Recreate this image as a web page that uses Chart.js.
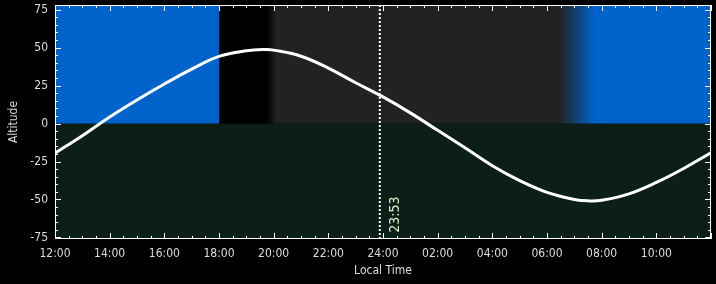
<!DOCTYPE html>
<html>
<head>
<meta charset="utf-8">
<script src="https://cdn.jsdelivr.net/npm/chart.js@4/dist/chart.umd.min.js"></script>
<style>
  html, body { margin: 0; padding: 0; background: #000; }
  #wrap { width: 716px; height: 284px; }
</style>
</head>
<body>
<div id="wrap"><canvas id="altChart"></canvas></div>
<script>
// hours counted from 12:00 local time
const hours    = [0, 1, 2, 3, 4, 5, 6, 7, 7.7, 8, 9, 10, 11, 12, 13, 14, 15, 16, 17, 18, 19, 19.5, 20, 21, 22, 23, 24];
const altitude = [-19.5, -8, 4.3, 15.5, 26, 35.8, 44.2, 47.9, 48.7, 48.3, 44.3, 36.5, 26.8, 17.5, 7, -4.5, -16, -27.8, -37.6, -45.3, -50, -50.9, -50.5, -46.3, -38.8, -29.6, -19.2];

const xTickHours  = [0, 2, 4, 6, 8, 10, 12, 14, 16, 18, 20, 22];
const xTickLabels = ['12:00', '14:00', '16:00', '18:00', '20:00', '22:00', '24:00', '02:00', '04:00', '06:00', '08:00', '10:00'];
const yTickValues = [-75, -50, -25, 0, 25, 50, 75];

// current time marker
const nowHour  = 11.883;
const nowLabel = '23:53';

// sky phases (hours from 12:00)
const sunsetHour = 6.0;
const darkStart  = 7.75;
const darkEnd    = 8.1;
const dawnStart  = 18.45;
const dawnEnd    = 19.75;

const FONT = "'Liberation Sans Narrow', 'DejaVu Sans Condensed', sans-serif";
const DAY = '#0063cc', NIGHT = '#000000', DARK = '#222222', GROUND = '#0b1f16';

// sky / ground bands behind the curve
const skyBands = {
    id: 'skyBands',
    beforeDatasetsDraw(chart) {
        const { ctx, chartArea: { left, right, top, bottom }, scales: { x, y } } = chart;
        const y0 = y.getPixelForValue(0);
        const f = h => (x.getPixelForValue(h) - left) / (right - left);
        ctx.save();
        ctx.fillStyle = GROUND;
        ctx.fillRect(left, y0, right - left, bottom - y0);

        const g = ctx.createLinearGradient(left, 0, right, 0);
        g.addColorStop(0, DAY);
        g.addColorStop(f(sunsetHour), DAY);
        g.addColorStop(f(sunsetHour) + 0.0001, NIGHT);
        g.addColorStop(f(darkStart), NIGHT);
        g.addColorStop(f(darkEnd), DARK);
        g.addColorStop(f(dawnStart), DARK);
        g.addColorStop(f(dawnEnd), DAY);
        g.addColorStop(1, DAY);
        ctx.fillStyle = g;
        ctx.fillRect(left, top, right - left, y0 - top);
        ctx.restore();
    }
};

// white frame with inward ticks, plus the time label
const frameTicks = {
    id: 'frameTicks',
    afterDraw(chart) {
        const { ctx, chartArea: { left, right, top, bottom }, scales: { x, y } } = chart;
        ctx.save();
        ctx.strokeStyle = '#ffffff';
        ctx.lineWidth = 1;
        ctx.strokeRect(Math.round(left) + 0.5, Math.round(top) + 0.5,
                       Math.round(right - left) - 1, Math.round(bottom - top) - 1);
        ctx.beginPath();
        for (let h = 0; h <= 24; h += 0.5) {
            const p = Math.round(x.getPixelForValue(h)) + 0.5;
            const len = (h % 2 === 0) ? 6 : 3;
            ctx.moveTo(p, bottom); ctx.lineTo(p, bottom - len);
            ctx.moveTo(p, top); ctx.lineTo(p, top + len);
        }
        for (let v = -75; v <= 75; v += 5) {
            const p = Math.round(y.getPixelForValue(v)) + 0.5;
            const len = (v % 25 === 0) ? 6 : 3;
            ctx.moveTo(left, p); ctx.lineTo(left + len, p);
            ctx.moveTo(right, p); ctx.lineTo(right - len, p);
        }
        ctx.stroke();

        ctx.translate(x.getPixelForValue(nowHour) + 16, y.getPixelForValue(-60));
        ctx.rotate(-Math.PI / 2);
        ctx.fillStyle = '#dfeecf';
        ctx.font = "14px " + FONT;
        ctx.textAlign = 'center';
        ctx.textBaseline = 'middle';
        ctx.fillText(nowLabel, 0, 0);
        ctx.restore();
    }
};

new Chart(document.getElementById('altChart'), {
    type: 'line',
    data: {
        datasets: [
            {
                data: hours.map((h, i) => ({ x: h, y: altitude[i] })),
                borderColor: '#ffffff',
                borderWidth: 3,
                pointRadius: 0,
                tension: 0.4
            },
            {
                data: [{ x: nowHour, y: -76 }, { x: nowHour, y: 78 }],
                borderColor: '#ffffff',
                borderWidth: 2,
                borderDash: [2, 2],
                pointRadius: 0
            }
        ]
    },
    options: {
        responsive: true,
        maintainAspectRatio: false,
        animation: false,
        layout: { padding: { left: 0, right: 5, top: 5, bottom: 0 } },
        plugins: { legend: { display: false }, tooltip: { enabled: false } },
        scales: {
            x: {
                type: 'linear',
                min: 0,
                max: 24,
                afterBuildTicks: s => { s.ticks = xTickHours.map(v => ({ value: v })); },
                afterFit: s => { s.height = 45; s.paddingLeft = 0; s.paddingRight = 0; },
                grid: { display: false, drawTicks: false },
                border: { display: false },
                ticks: {
                    color: '#dddddd',
                    font: { family: FONT, size: 12 },
                    padding: 8,
                    maxRotation: 0,
                    autoSkip: false,
                    callback: v => xTickLabels[xTickHours.indexOf(v)] || ''
                },
                title: {
                    display: true,
                    text: 'Local Time',
                    color: '#dddddd',
                    font: { family: FONT, size: 12 },
                    padding: { top: 0, bottom: 6 }
                }
            },
            y: {
                min: -76,
                max: 78,
                afterBuildTicks: s => { s.ticks = yTickValues.map(v => ({ value: v })); },
                afterFit: s => { s.width = 55; s.paddingTop = 0; s.paddingBottom = 0; },
                grid: { display: false, drawTicks: false },
                border: { display: false },
                ticks: {
                    color: '#dddddd',
                    font: { family: FONT, size: 12 },
                    padding: 7
                },
                title: {
                    display: true,
                    text: 'Altitude',
                    color: '#dddddd',
                    font: { family: FONT, size: 12 },
                    padding: { top: 7, bottom: 0 }
                }
            }
        }
    },
    plugins: [skyBands, frameTicks]
});
</script>
</body>
</html>
